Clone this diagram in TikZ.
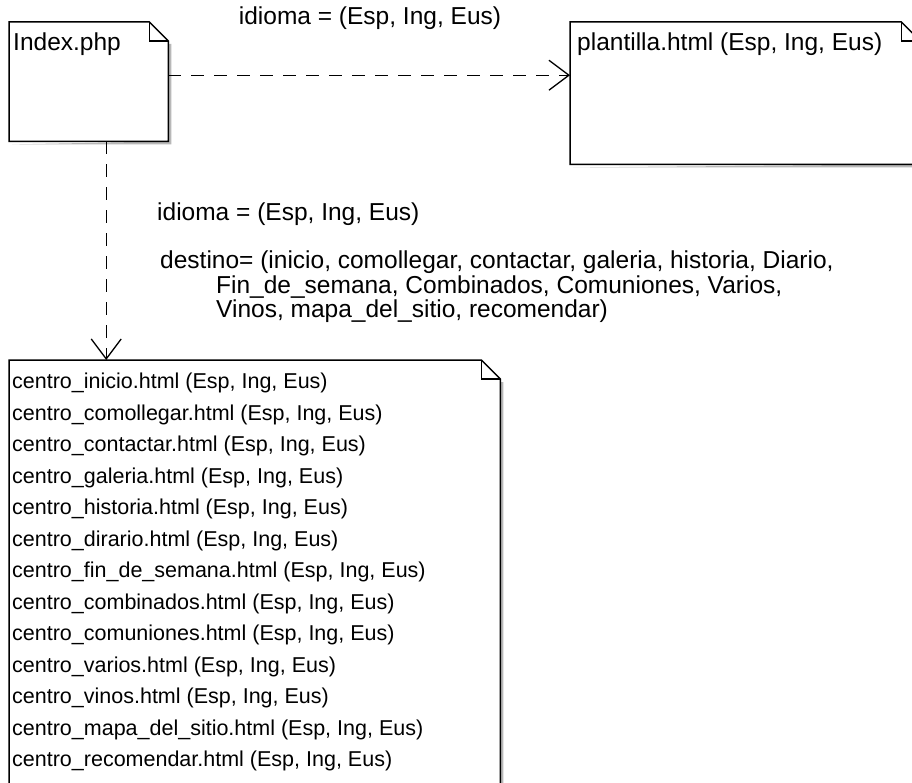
\documentclass[tikz,border=0pt]{standalone}
\usepackage{fontspec}
\setmainfont{Liberation Sans}
\usetikzlibrary{positioning,arrows.meta}

\definecolor{shadowgray}{gray}{0.72}

\tikzset{
    notebox/.style={inner sep=0pt, anchor=north west},
    noteline/.style={line width=1.5pt, line join=miter},
    txt/.style={inner sep=0pt, font=\fontsize{24.5}{31.5}\selectfont},
    listtxt/.style={inner sep=0pt, font=\fontsize{21.5}{31.5}\selectfont},
    dep/.style={line width=1.3pt, dash pattern=on 13pt off 10pt,
        -{Straight Barb[length=20pt,width=30pt,line width=1.3pt]}},
}

% folded corner outline round a named node
\newcommand{\notebody}[1]{%
    \fill[shadowgray] ([shift={(3pt,-3pt)}]#1.south west) -- ([shift={(3pt,-3pt)}]#1.south east)
        -- ([shift={(3pt,-22pt)}]#1.north east) -- ([shift={(0pt,-22pt)}]#1.north east)
        -- (#1.south east) -- cycle;
    \filldraw[noteline, fill=white] (#1.south west) -- (#1.north west) -- ([xshift=-19pt]#1.north east)
        -- ([yshift=-19pt]#1.north east) -- (#1.south east) -- cycle;
    \draw[noteline] ([xshift=-19pt]#1.north east) |- ([yshift=-19pt]#1.north east);
}

\begin{document}
\begin{tikzpicture}[x=1pt, y=-1pt]
    \clip (0,0) rectangle (912,783);
    \fill[white] (0,0) rectangle (912,783);

    % Notes
    \node[notebox, minimum width=159pt, minimum height=119pt] (index) at (9,22) {};
    \node[notebox, minimum width=350pt, minimum height=142pt] (plantilla) at (570,22) {};
    \node[notebox, minimum width=491pt, minimum height=440pt] (centros) at (9,360) {};
    \notebody{index}
    \notebody{plantilla}
    \notebody{centros}

    \node[txt, anchor=west] (indexname) at ([xshift=4pt,yshift=-22pt]index.north west) {Index.php};
    \node[txt, anchor=west] (plantillaname) at ([xshift=7pt,yshift=-22pt]plantilla.north west) {plantilla.html (Esp, Ing, Eus)};

    % Pages listed in the lower note
    \foreach \page [count=\i from 0] in {inicio, comollegar, contactar, galeria, historia, dirario,
        fin\_de\_semana, combinados, comuniones, varios, vinos, mapa\_del\_sitio, recomendar}
        \node[listtxt, anchor=west] (centro\i) at ([xshift=3pt,yshift=-23pt-31.5pt*\i]centros.north west)
            {centro\_\page.html (Esp, Ing, Eus)};

    % Dependencies
    \coordinate (indexout) at ([yshift=6.5pt]index.east);
    \coordinate (indexdown) at ([xshift=17.5pt]index.south);
    \draw[dep] (indexout) -- (indexout -| plantilla.west);
    \draw[dep] (indexdown) -- (indexdown |- centros.north);

    % Parameters
    \node[txt] (idiomatop) at (370,18) {idioma = (Esp, Ing, Eus)};
    \node[txt, anchor=west] (idioma) at (157,214) {idioma = (Esp, Ing, Eus)};
    \node[txt, anchor=north west, align=left, font=\fontsize{24.5}{24.5}\selectfont] (destino) at (160,251)
        {destino= (inicio, comollegar, contactar, galeria, historia, Diario,\\
        \hspace*{56pt}Fin\_de\_semana, Combinados, Comuniones, Varios,\\
        \hspace*{56pt}Vinos, mapa\_del\_sitio, recomendar)};
\end{tikzpicture}
\end{document}
